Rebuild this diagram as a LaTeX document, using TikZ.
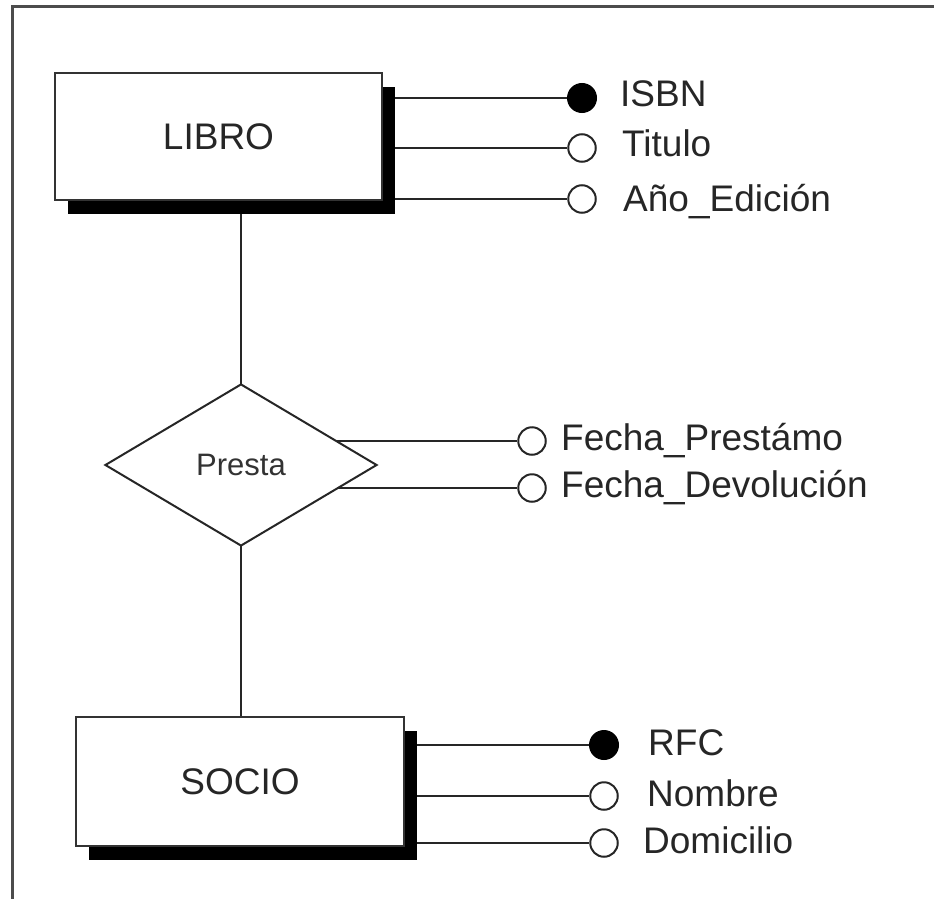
\documentclass[tikz,border=0pt]{standalone}
\usepackage{fontspec}
\setmainfont{Liberation Sans}
\usetikzlibrary{shapes.geometric,shadows,backgrounds}
\begin{document}
\begin{tikzpicture}[x=1pt,y=-1pt,
  frame/.style={draw=black!70, line width=3pt},
  entity/.style={draw=black!80, line width=2.5pt, fill=white,
    minimum width=327pt, minimum height=127pt, inner sep=0pt,
    font=\fontsize{37}{44}\selectfont, text=black!85,
    drop shadow={shadow xshift=13pt, shadow yshift=-14pt, fill=black, opacity=1}},
  relation/.style={diamond, draw=black!85, line width=2pt, fill=white,
    minimum width=272pt, minimum height=162pt, inner sep=0pt,
    font=\fontsize{31}{37}\selectfont, text=black!80},
  keyattr/.style={circle, fill=black, draw=black, line width=1.5pt,
    minimum size=28.5pt, inner sep=0pt},
  attr/.style={circle, fill=white, draw=black!85, line width=2pt,
    minimum size=27.5pt, inner sep=0pt},
  attrlabel/.style={anchor=base west, inner sep=0pt,
    font=\fontsize{37}{44}\selectfont, text=black!85},
  link/.style={draw=black!85, line width=2.7pt}]

\useasboundingbox (0,0) rectangle (934,899);

% outer frame (open to the right and bottom)
\draw[frame] (12,899) -- (12,7) -- (934,7);

% entities and relationship
\node[entity] (libro) at (218.5,136.5) {LIBRO};
\node[entity, minimum width=328pt, minimum height=129pt] (socio) at (240,781.5) {SOCIO};
\node[relation] (presta) at (241,465) {Presta};

% attributes of LIBRO
\node[keyattr] (isbn) at (582,98) {};
\node[attr] (titulo) at (582,148) {};
\node[attr] (anio) at (582,199) {};
\node[attrlabel] (isbnlbl) at (620,106) {ISBN};
\node[attrlabel] (titulolbl) at (622,156) {Titulo};
\node[attrlabel] (aniolbl) at (623,211) {Año\_Edición};

% attributes of Presta
\node[attr] (fprest) at (532,441) {};
\node[attr] (fdevol) at (532,488) {};
\node[attrlabel] (fprestlbl) at (561,450) {Fecha\_Prestámo};
\node[attrlabel] (fdevollbl) at (561,497) {Fecha\_Devolución};

% attributes of SOCIO
\node[keyattr] (rfc) at (604,745) {};
\node[attr] (nombre) at (604,796) {};
\node[attr] (domic) at (604,843) {};
\node[attrlabel] (rfclbl) at (648,755) {RFC};
\node[attrlabel] (nombrelbl) at (647,806) {Nombre};
\node[attrlabel] (domiclbl) at (643,853) {Domicilio};

% connectors, kept behind the filled shapes
\begin{scope}[on background layer]
  \draw[link] (presta.center |- libro.center) -- (presta.center);
  \draw[link] (presta.center) -- (presta.center |- socio.center);
  \draw[link] (libro.center |- isbn) -- (isbn);
  \draw[link] (libro.center |- titulo) -- (titulo);
  \draw[link] (libro.center |- anio) -- (anio);
  \draw[link] (presta.center |- fprest) -- (fprest);
  \draw[link] (presta.center |- fdevol) -- (fdevol);
  \draw[link] (socio.center |- rfc) -- (rfc);
  \draw[link] (socio.center |- nombre) -- (nombre);
  \draw[link] (socio.center |- domic) -- (domic);
\end{scope}
\end{tikzpicture}
\end{document}
